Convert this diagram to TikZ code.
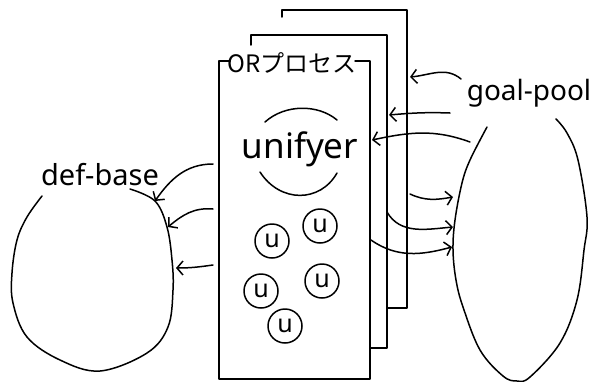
\documentclass[tikz,border=0pt]{standalone}
\usepackage{fontspec}
\setmainfont{Noto Sans}
\newfontfamily\jp{Noto Sans CJK JP}
\usetikzlibrary{arrows.meta}
\begin{document}
\begin{tikzpicture}[x=1pt,y=-1pt,
  ink/.style={line width=1.5pt, line cap=round, line join=round},
  arr/.style={ink, -{Straight Barb[length=6pt,width=14pt,line width=1.5pt]}},
  ucirc/.style={circle, draw, line width=1.5pt, minimum size=34pt, inner sep=0pt, font=\fontsize{25}{25}\selectfont},
  lbl/.style={inner sep=0pt, anchor=base}]
\useasboundingbox (0,0) rectangle (591,381);
% stacked process sheets
\draw[ink] (282,17) -- (282,10) -- (407,10) -- (407,308) -- (388,308);
\draw[ink] (251,45) -- (251,35) -- (387,35) -- (387,348) -- (370,348);
\draw[ink] (230,61) -- (219,61) -- (219,379) -- (370,379) -- (370,61) -- (355,61);
\node[lbl, font=\jp\fontsize{24}{24}\selectfont] (title) at (292,72) {ORプロセス};
% unifyer
\node[lbl, font=\fontsize{35}{35}\selectfont] (unif) at (300,158) {unifyer};
\draw[ink] (265,122) .. controls (285,104) and (318,104) .. (337,120);
\draw[ink] (260,172) .. controls (280,203) and (320,203) .. (337,173);
% u circles
\node[ucirc] (u1) at (272,241) {u};
\node[ucirc] (u2) at (320,226) {u};
\node[ucirc] (u3) at (322,281) {u};
\node[ucirc] (u4) at (261,291) {u};
\node[ucirc] (u5) at (285,326) {u};
% def-base
\draw[ink] plot[smooth, tension=0.6] coordinates {(130,189) (155,201) (167,227) (172,260) (173,290) (168,327) (147,353) (100,371) (60,360) (27,337) (13,303) (12,273) (17,240) (27,217) (42,196)};
\node[lbl, font=\fontsize{29}{29}\selectfont] (defbase) at (100,185) {def-base};
% goal-pool
\draw[ink] plot[smooth, tension=0.6] coordinates {(487,127) (470,160) (462,183) (455,220) (453,250) (456,280) (463,307) (480,350) (503,376) (517,381) (530,377) (560,343) (577,300) (584,250) (587,217) (578,160) (567,133) (556,119)};
\node[lbl, font=\fontsize{28}{28}\selectfont] (goalpool) at (529,100) {goal-pool};
% arrow end points
\coordinate (l1s) at (213,164); \coordinate (l1e) at (155,201);
\coordinate (l2s) at (213,209); \coordinate (l2e) at (168,227);
\coordinate (l3s) at (213,265); \coordinate (l3e) at (176,268);
\coordinate (ras) at (461,79);  \coordinate (rae) at (410,77);
\coordinate (rbs) at (450,113); \coordinate (rbe) at (389,115);
\coordinate (rcs) at (470,142); \coordinate (rce) at (372,140);
\coordinate (rds) at (410,194); \coordinate (rde) at (453,197);
\coordinate (res) at (387,212); \coordinate (ree) at (453,227);
\coordinate (rfs) at (371,240); \coordinate (rfe) at (452,247);
% arrows
\draw[arr] (l1s) to[out=180,in=55] (l1e);
\draw[arr] (l2s) to[out=175,in=40] (l2e);
\draw[arr] (l3s) to[out=188,in=0] (l3e);
\draw[arr] (ras) to[out=140,in=5] (rae);
\draw[arr] (rbs) to[out=178,in=5] (rbe);
\draw[arr] (rcs) to[out=160,in=12] (rce);
\draw[arr] (rds) to[out=-25,in=190] (rde);
\draw[arr] (res) to[out=-60,in=185] (ree);
\draw[arr] (rfs) to[out=-35,in=195] (rfe);
\end{tikzpicture}
\end{document}
